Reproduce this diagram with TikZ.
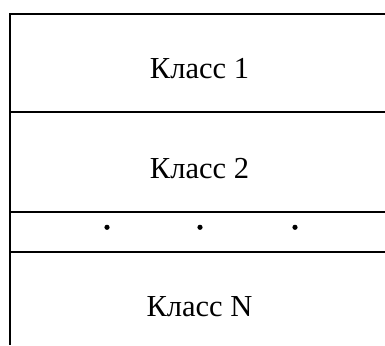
\documentclass[tikz,border=0pt]{standalone}
\usepackage{fontspec}
\setmainfont{Liberation Serif}
\begin{document}
\begin{tikzpicture}[x=1pt,y=-1pt,
  rule/.style={line width=2pt,black},
  sep/.style={line width=1.7pt,black},
  label/.style={anchor=base,inner sep=0pt,font=\fontsize{30.5}{36}\selectfont},
  dot/.style={fill=black,draw=none}]
  \useasboundingbox (0,0) rectangle (385,345);
  % frame: top edge and left edge
  \draw[rule] (385,14) -- (9.5,14) -- (9.5,345);
  % separators between the sections
  \draw[sep] (9.5,112) -- (385,112);
  \draw[sep] (9.5,211.7) -- (385,211.7);
  \draw[sep] (9.5,251.7) -- (385,251.7);
  % section titles
  \node[label] (c1) at (199.5,78.3) {Класс 1};
  \node[label] (c2) at (199.5,178.3) {Класс 2};
  \node[label] (cn) at (199.5,316.7) {Класс N};
  % ellipsis row
  \fill[dot] (107,227.3) circle (2.6);
  \fill[dot] (200,227.3) circle (2.6);
  \fill[dot] (295,227.3) circle (2.6);
\end{tikzpicture}
\end{document}
